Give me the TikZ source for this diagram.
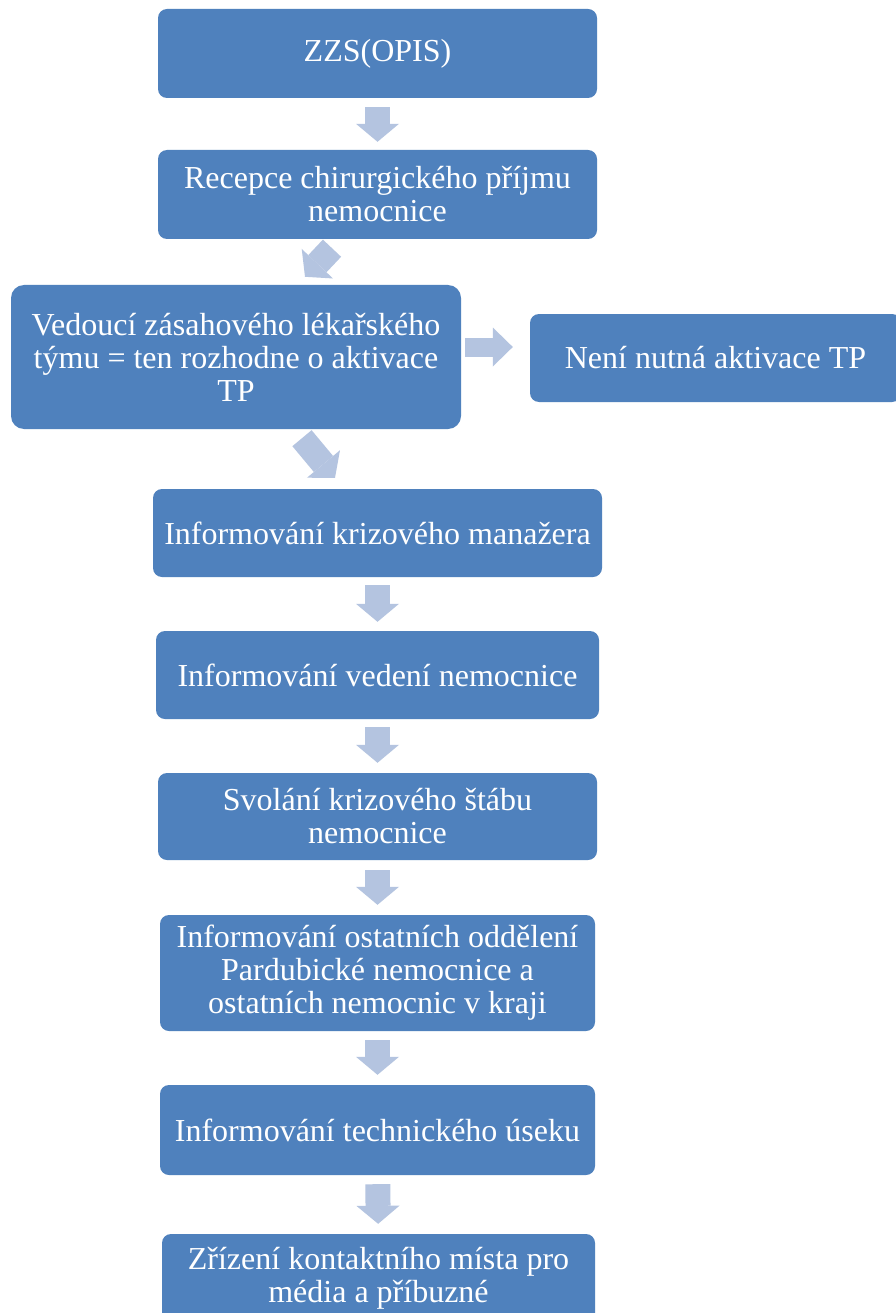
\documentclass[tikz,border=0pt]{standalone}
\usepackage{fontspec}
\setmainfont{Liberation Serif}
\usepackage{xcolor}
\usepackage{tikz}
\usetikzlibrary{
  calc,%
  arrows.meta,%
  backgrounds,%
  positioning
}
\definecolor{boxblue}{HTML}{4F81BD}
\definecolor{arrowblue}{HTML}{B4C4E0}
\tikzset{font=\fontsize{32}{33}\selectfont}
\tikzset{stepbox/.style={fill=boxblue, text=white, rounded corners=9pt,
    align=center, inner sep=4pt}}
% block arrows between the steps
\tikzset{flow/.style={draw=arrowblue, line width=25pt,
    -{Triangle[length=18pt, width=43pt, line width=0pt]}}}
\tikzset{flowthin/.style={draw=arrowblue, line width=19pt,
    -{Triangle[length=20pt, width=39pt, line width=0pt]}}}

\begin{document}
\begin{tikzpicture}[x=1pt, y=-1pt]
  \useasboundingbox (0,0) rectangle (895,1313);
  \node[stepbox, minimum width=439pt, minimum height=89pt] (zzs) at (377.5,53.5) {ZZS(OPIS)};
  \node[stepbox, minimum width=439pt, minimum height=89pt] (recepce) at (377.5,194.5) {Recepce chirurgického příjmu\\ nemocnice};
  \node[stepbox, rounded corners=13pt, minimum width=450pt, minimum height=144pt] (vedouci) at (236,357) {Vedoucí zásahového lékařského\\ týmu = ten rozhodne o aktivace\\ TP};
  \node[stepbox, minimum width=371pt, minimum height=88pt] (neni) at (715.5,358) {Není nutná aktivace TP};
  \node[stepbox, minimum width=449pt, minimum height=88pt] (infkriz) at (377.5,533) {Informování krizového manažera};
  \node[stepbox, minimum width=443pt, minimum height=88pt] (infved) at (377.5,675) {Informování vedení nemocnice};
  \node[stepbox, minimum width=439pt, minimum height=87pt] (svolani) at (377.5,816.5) {Svolání krizového štábu\\ nemocnice};
  \node[stepbox, minimum width=435pt, minimum height=116pt] (infost) at (377.5,973) {Informování ostatních oddělení\\ Pardubické nemocnice a\\ ostatních nemocnic v kraji};
  \node[stepbox, minimum width=435pt, minimum height=90pt] (inftech) at (377.5,1130) {Informování technického úseku};
  \node[stepbox, minimum width=433pt, minimum height=88pt] (zrizeni) at (378.5,1278) {Zřízení kontaktního místa pro\\ média a příbuzné};

  \begin{scope}[on background layer]
    \fill[white] (0,0) rectangle (895,1313);
    \draw[flow, shorten <=9pt, shorten >=8pt] (zzs) -- (recepce);
    \draw[flow] ($(recepce.south)+(-45.5,9)$) -- ($(vedouci.north)+(69,-8)$);
    \draw[flowthin] ($(vedouci.east)+(4,-10)$) -- ($(neni.west)+(-17,-11)$);
    \draw[flow] ($(vedouci.south)+(66,9)$) -- ($(infkriz.north)+(-42.5,-11)$);
    \draw[flow, shorten <=8pt, shorten >=9pt] (infkriz) -- (infved);
    \draw[flow, shorten <=8pt, shorten >=10pt] (infved) -- (svolani);
    \draw[flow, shorten <=10pt, shorten >=10pt] (svolani) -- (infost);
    \draw[flow, shorten <=9pt, shorten >=10pt] (infost) -- (inftech);
    \draw[flow, shorten <=9pt, shorten >=10pt] (inftech) -- (zrizeni);
  \end{scope}
\end{tikzpicture}
\end{document}
